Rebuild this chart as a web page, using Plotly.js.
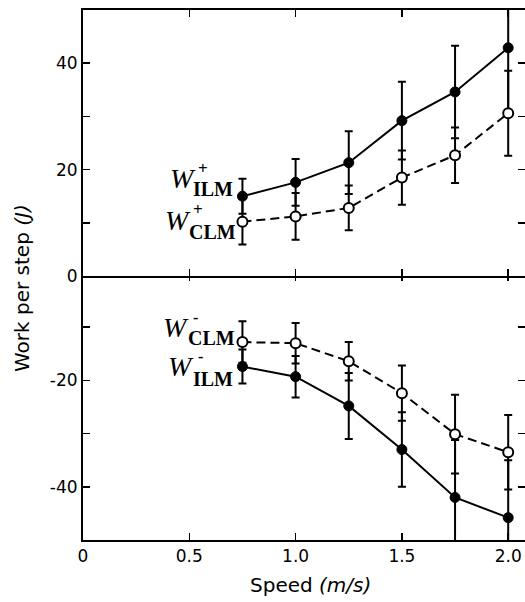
<!DOCTYPE html>
<html>
<head>
<meta charset="utf-8">
<script src="https://cdn.plot.ly/plotly-3.0.1.min.js"></script>
<style>html,body{margin:0;padding:0;background:#fff;overflow:hidden;}</style>
</head>
<body>
<div id="chart" style="width:525px;height:602px;"></div>
<script>
// ---- data ----
var speed = [0.75, 1.0, 1.25, 1.5, 1.75, 2.0];

var ilmPos    = [15.0, 17.6, 21.3, 29.2, 34.6, 42.9];
var ilmPosErr = [3.3, 4.4, 5.9, 7.3, 8.7, 12.0];
var clmPos    = [10.2, 11.2, 12.8, 18.5, 22.7, 30.6];
var clmPosErr = [4.3, 4.4, 4.2, 5.1, 5.2, 8.0];

var clmNeg    = [-12.8, -13.0, -16.4, -22.4, -30.1, -33.5];
var clmNegErr = [3.9, 3.8, 3.6, 5.2, 7.4, 7.0];
var ilmNeg    = [-17.4, -19.3, -24.8, -33.0, -42.0, -45.8];
var ilmNegErr = [3.2, 3.9, 6.2, 7.0, 10.8, 10.8];

var xTickVals = [0, 0.5, 1.0, 1.5, 2.0];
var xTickText = ['0', '0.5', '1.0', '1.5', '2.0'];
var yTopVals = [0, 10, 20, 30, 40];
var yTopText = ['0', '', '20', '', '40'];
var yBotVals = [-40, -30, -20, -10];
var yBotText = ['-40', '', '-20', ''];

// ---- styles ----
function filled(x, y, e, xa, ya) {
  return {
    x: x, y: y, xaxis: xa, yaxis: ya, type: 'scatter', mode: 'lines+markers',
    line: {color: '#000', width: 2},
    marker: {symbol: 'circle', size: 10, color: '#000', line: {color: '#000', width: 1}},
    error_y: {type: 'data', array: e, visible: true, color: '#000', thickness: 2, width: 4},
    showlegend: false, hoverinfo: 'skip'
  };
}
function open(x, y, e, xa, ya) {
  return {
    x: x, y: y, xaxis: xa, yaxis: ya, type: 'scatter', mode: 'lines+markers',
    line: {color: '#000', width: 2, dash: '9px,5px'},
    marker: {symbol: 'circle', size: 10, color: '#fff', line: {color: '#000', width: 2}},
    error_y: {type: 'data', array: e, visible: true, color: '#000', thickness: 2, width: 4},
    showlegend: false, hoverinfo: 'skip'
  };
}

var traces = [
  filled(speed, ilmPos, ilmPosErr, 'x2', 'y2'),
  open(speed, clmPos, clmPosErr, 'x2', 'y2'),
  filled(speed, ilmNeg, ilmNegErr, 'x', 'y'),
  open(speed, clmNeg, clmNegErr, 'x', 'y')
];

// pixel helpers for layout placement (plot area: x 83..525, y 10..540)
function xp(px) { return (px - 83) / 442; }
function yp(py) { return (540 - py) / 530; }

var serif = 'Liberation Serif, Times New Roman, serif';
var sans = 'DejaVu Sans, sans-serif';

function lab(txt, px, py, size, anchor) {
  return {
    text: txt, xref: 'paper', yref: 'paper', x: xp(px), y: yp(py),
    xanchor: anchor, yanchor: 'middle', showarrow: false,
    font: {family: serif, size: size, color: '#000'}
  };
}

var annotations = [
  // W+ ILM
  lab('<i>W</i>', 198, 178, 28, 'right'),
  lab('<b>+</b>', 196, 168, 17, 'left'),
  lab('<b>ILM</b>', 191, 189, 20, 'left'),
  // W+ CLM
  lab('<i>W</i>', 193, 220, 28, 'right'),
  lab('<b>+</b>', 191, 209, 17, 'left'),
  lab('<b>CLM</b>', 187, 232, 20, 'left'),
  // W- CLM
  lab('<i>W</i>', 191, 327, 28, 'right'),
  lab('<b>-</b>', 191, 317, 16, 'left'),
  lab('<b>CLM</b>', 186, 338, 20, 'left'),
  // W- ILM
  lab('<i>W</i>', 196, 366, 28, 'right'),
  lab('<b>-</b>', 196, 356, 16, 'left'),
  lab('<b>ILM</b>', 191, 379, 20, 'left'),
  // axis titles
  {text: 'Work per step <i>(J)</i>', xref: 'paper', yref: 'paper', x: xp(22), y: yp(288),
   xanchor: 'center', yanchor: 'middle', textangle: -90, showarrow: false,
   font: {family: sans, size: 20, color: '#000'}},
  {text: 'Speed <i>(m/s)</i>', xref: 'paper', yref: 'paper', x: xp(310), y: yp(585),
   xanchor: 'center', yanchor: 'middle', showarrow: false,
   font: {family: sans, size: 20, color: '#000'}}
];

var xRange = [0, 2.079];
var common = {showgrid: false, zeroline: false, showline: true, linecolor: '#000', linewidth: 2,
  ticks: 'inside', ticklen: 7, tickwidth: 1.5, tickcolor: '#000', mirror: 'ticks'};
var half = 1 / 530; // one pixel in paper units, so the two middle lines coincide

var layout = {
  width: 525, height: 602,
  margin: {l: 83, r: 0, t: 10, b: 62, pad: 0},
  paper_bgcolor: '#fff', plot_bgcolor: '#fff',
  font: {family: sans, size: 17, color: '#000'},
  showlegend: false,
  xaxis: Object.assign({}, common, {anchor: 'y', domain: [0, 1], range: xRange,
    tickmode: 'array', tickvals: xTickVals, ticktext: xTickText,
    tickfont: {family: sans, size: 17, color: '#000'}}),
  yaxis: Object.assign({}, common, {anchor: 'x', domain: [0, 0.5 + half], range: [-50, 0],
    tickmode: 'array', tickvals: yBotVals, ticktext: yBotText,
    tickfont: {family: sans, size: 17, color: '#000'}}),
  xaxis2: Object.assign({}, common, {anchor: 'y2', domain: [0, 1], range: xRange, matches: 'x',
    tickmode: 'array', tickvals: xTickVals, showticklabels: false}),
  yaxis2: Object.assign({}, common, {anchor: 'x2', domain: [0.5 - half, 1], range: [0, 50],
    tickmode: 'array', tickvals: yTopVals, ticktext: yTopText,
    tickfont: {family: sans, size: 17, color: '#000'}}),
  annotations: annotations
};

Plotly.newPlot('chart', traces, layout, {staticPlot: true, displayModeBar: false});
</script>
</body>
</html>
